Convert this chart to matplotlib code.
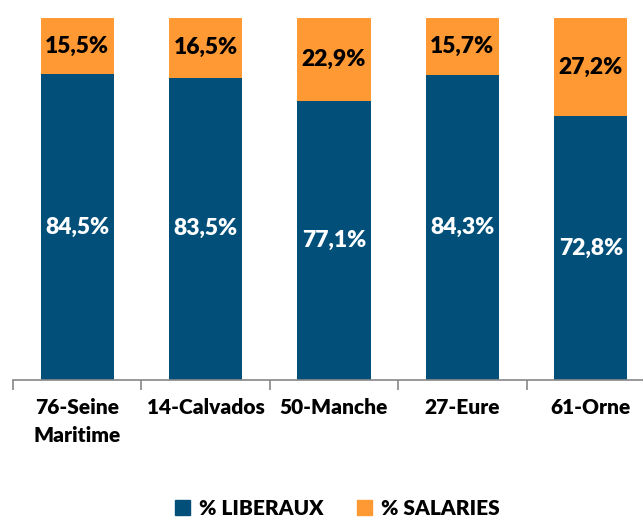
import numpy as np
from matplotlib import pyplot as plt
from matplotlib.patches import Patch

categories = ['76-Seine\nMaritime', '14-Calvados', '50-Manche', '27-Eure', '61-Orne']
liberaux = [84.5, 83.5, 77.1, 84.3, 72.8]
salaries = [15.5, 16.5, 22.9, 15.7, 27.2]

blue = '#02507A'
orange = '#FF9933'

plt.rcParams['font.family'] = ['Lato', 'DejaVu Sans']
wt = 'heavy'

fig = plt.figure(figsize=(6.43, 5.20), dpi=100)
ax = fig.add_axes([13/643, 140/520, 642/643, 362/520])

x = np.arange(len(categories))
w = 0.57
ax.bar(x, liberaux, w, color=blue)
ax.bar(x, salaries, w, bottom=liberaux, color=orange)

for i in range(len(categories)):
    ax.text(x[i], liberaux[i] / 2, f'{liberaux[i]:.1f}%'.replace('.', ','),
            ha='center', va='center', color='white', fontsize=16.5, fontweight=wt)
    ax.text(x[i], liberaux[i] + salaries[i] / 2, f'{salaries[i]:.1f}%'.replace('.', ','),
            ha='center', va='center', color='black', fontsize=16.5, fontweight=wt)

ax.set_xlim(-0.5, len(categories) - 0.5)
ax.set_ylim(0, 100)
ax.set_yticks([])
for s in ['left', 'right', 'top']:
    ax.spines[s].set_visible(False)
ax.spines['bottom'].set_color('#888888')
ax.spines['bottom'].set_linewidth(1.2)

ax.set_xticks(np.arange(-0.5, len(categories), 1), minor=False)
ax.set_xticklabels([])
ax.tick_params(axis='x', length=7, color='#888888', width=1.2)
for i, c in enumerate(categories):
    ax.text(x[i], -5, c, ha='center', va='top', fontsize=15, fontweight=wt,
            linespacing=1.55)

handles = [Patch(color=blue, label='% LIBERAUX'), Patch(color=orange, label='% SALARIES')]
fig.legend(handles=handles, loc='center', bbox_to_anchor=(0.525, 0.022), ncol=2,
           frameon=False, prop={'size': 15, 'weight': wt},
           handlelength=0.7, handleheight=0.7, columnspacing=1.6, handletextpad=0.45)

fig.savefig('out.png', dpi=100)
